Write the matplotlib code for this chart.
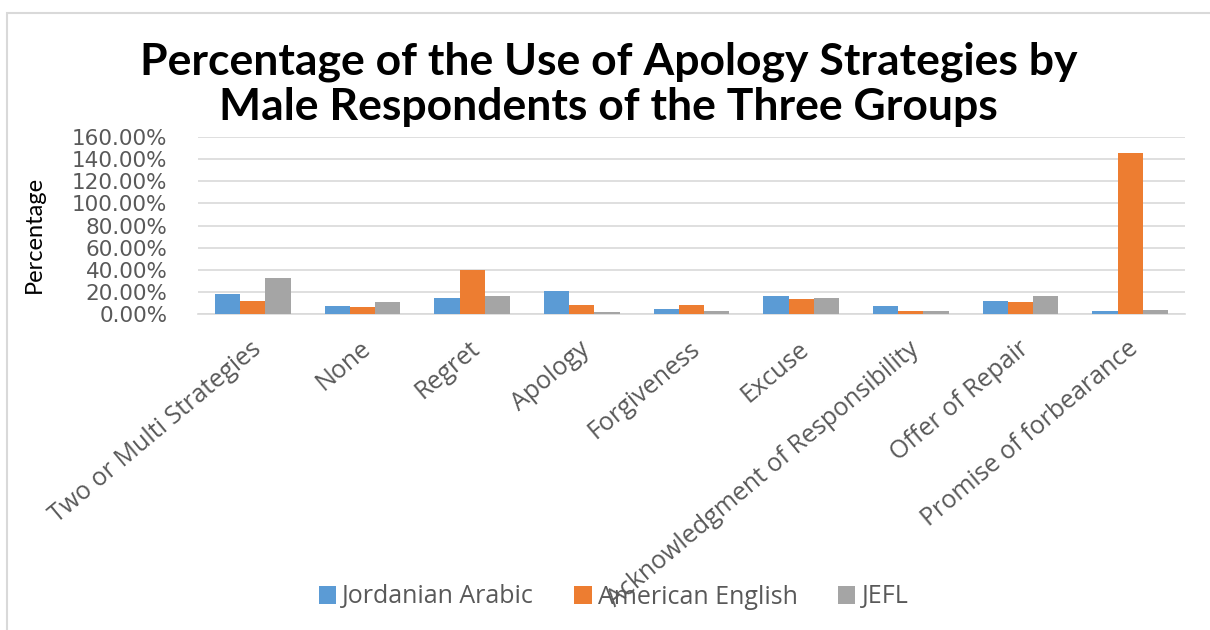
import numpy as np
import matplotlib.pyplot as plt
from matplotlib.patches import Rectangle
from matplotlib.ticker import FuncFormatter
from matplotlib.transforms import ScaledTranslation

categories = ["Two or Multi Strategies", "None", "Regret", "Apology", "Forgiveness",
              "Excuse", "Acknowledgment of Responsibility", "Offer of Repair",
              "Promise of forbearance"]
jordanian_arabic = [17.8, 7.2, 14.2, 21.1, 4.8, 16.6, 7.2, 11.8, 2.4]
american_english = [11.8, 6.0, 39.8, 8.4, 8.4, 13.3, 2.4, 10.9, 145.6]
jefl = [32.9, 10.9, 16.6, 1.5, 2.4, 14.5, 2.4, 16.6, 3.6]
series_names = ["Jordanian Arabic", "American English", "JEFL"]
colors = ["#5b9bd5", "#ed7d31", "#a5a5a5"]

plt.rcParams['font.family'] = ['Open Sans', 'DejaVu Sans']
text_gray = "#595959"

fig = plt.figure(figsize=(12.1, 6.3), dpi=100)
ax = fig.add_axes([198 / 1210, 1 - 314 / 630, 987 / 1210, 177 / 630])

# chart border
fig.patches.append(Rectangle((7 / 1210, -0.1), 1.2, 1 - 13 / 630 + 0.1,
                             transform=fig.transFigure, fill=False,
                             edgecolor="#d9d9d9", linewidth=1.5))

x = np.arange(len(categories))
w = 0.23
for i, (vals, name) in enumerate(zip([jordanian_arabic, american_english, jefl], series_names)):
    ax.bar(x + (i - 1) * w, vals, width=w, color=colors[i], label=name, zorder=3)

ax.set_xlim(-0.5, len(categories) - 0.5)
ax.set_ylim(0, 160)
ax.set_yticks(np.arange(0, 161, 20))
ax.yaxis.set_major_formatter(FuncFormatter(lambda v, _: f"{v:.2f}%"))
ax.grid(axis='y', color="#d9d9d9", linewidth=1.2, zorder=0)
for s in ['top', 'right', 'left']:
    ax.spines[s].set_visible(False)
ax.spines['bottom'].set_color("#d9d9d9")
ax.spines['bottom'].set_linewidth(1.2)
ax.tick_params(axis='both', length=0, colors=text_gray)
ax.tick_params(axis='y', pad=22)
for lbl in ax.get_yticklabels():
    lbl.set_fontfamily(['DejaVu Sans'])
    lbl.set_fontsize(15.5)

ax.set_xticks(x)
ax.set_xticklabels(categories, rotation=40, ha='right', va='center',
                   rotation_mode='anchor', fontsize=18, color=text_gray)
ax.tick_params(axis='x', pad=23)
shift = ScaledTranslation(5 / 100, 0, fig.dpi_scale_trans)
for lbl in ax.get_xticklabels():
    lbl.set_transform(lbl.get_transform() + shift)

ax.set_ylabel("Percentage", fontsize=17, color="black", family=['Lato'])
ax.yaxis.set_label_coords(-0.155, 0.45)

fig.text(0.503, 1 - 62 / 630, "Percentage of the Use of Apology Strategies by",
         ha='center', va='center', fontsize=32, fontweight='bold', family=['Lato'])
fig.text(0.503, 1 - 107 / 630, "Male Respondents of the Three Groups",
         ha='center', va='center', fontsize=32, fontweight='bold', family=['Lato'])

leg = fig.legend(loc='center', bbox_to_anchor=(0.507, 1 - 597 / 630), ncol=3,
                 frameon=False, fontsize=18, handlelength=0.7, handleheight=0.7,
                 handletextpad=0.25, columnspacing=1.6)
for t in leg.get_texts():
    t.set_color(text_gray)

fig.savefig("out.png", dpi=100)
